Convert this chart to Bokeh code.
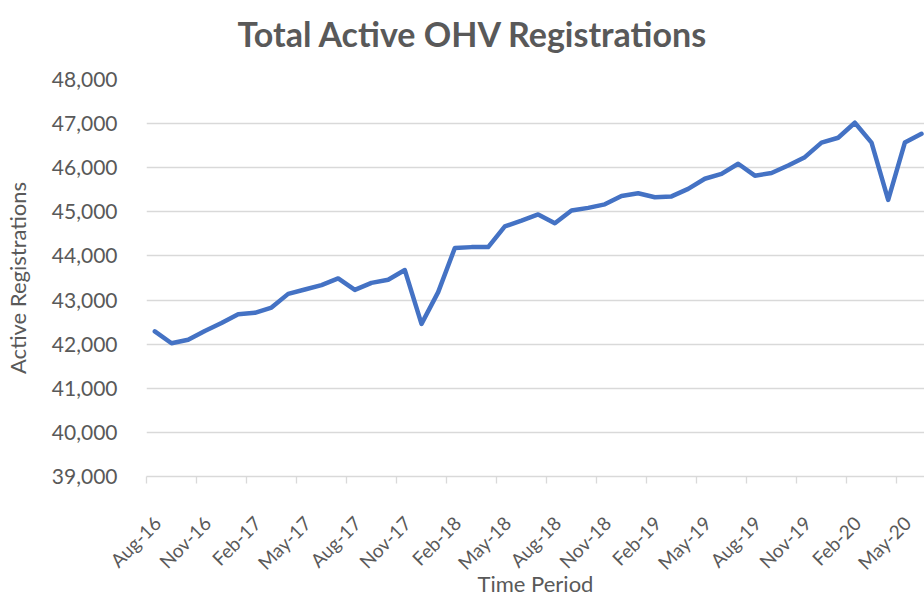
import math
from bokeh.plotting import figure
from bokeh.models import FixedTicker, NumeralTickFormatter, Range1d, LinearAxis, Title
from bokeh.embed import file_html
from bokeh.resources import INLINE

# ---- data ----
title_text = "Total Active OHV Registrations"
x_title = "Time Period"
y_title = "Active Registrations"

# monthly values, Aug-16 .. Jun-20
registrations = [42290, 42020, 42100, 42300, 42480, 42680, 42710, 42830, 43140, 43240,
                 43340, 43490, 43230, 43390, 43460, 43680, 42460, 43180, 44180, 44200,
                 44200, 44670, 44800, 44940, 44740, 45030, 45090, 45170, 45360, 45420,
                 45330, 45350, 45520, 45750, 45860, 46090, 45820, 45880, 46050, 46240,
                 46570, 46680, 47020, 46570, 45270, 46570, 46770]
month_index = list(range(len(registrations)))

tick_labels = ["Aug-16", "Nov-16", "Feb-17", "May-17", "Aug-17", "Nov-17", "Feb-18", "May-18",
               "Aug-18", "Nov-18", "Feb-19", "May-19", "Aug-19", "Nov-19", "Feb-20", "May-20"]
label_step = 3
y_ticks = [39000, 40000, 41000, 42000, 43000, 44000, 45000, 46000, 47000, 48000]

# ---- style ----
FONT = "Lato"
TXT = "#595959"
GRID = "#d9d9d9"
LINE = "#4472C4"

W, H = 924, 600
B_LEFT, B_TOP, B_BOTTOM = 146, 79, 124
px_per_month = 16.667
frame_w = W - B_LEFT
x_start = -0.5
x_end = x_start + frame_w / px_per_month
label_shift = 0.15   # nudge rotated labels so their ends sit like the original

p = figure(width=W, height=H, output_backend="svg", toolbar_location=None,
           x_range=Range1d(x_start, x_end), y_range=Range1d(y_ticks[0], y_ticks[-1]),
           min_border_left=B_LEFT, min_border_right=0, min_border_top=B_TOP,
           min_border_bottom=B_BOTTOM,
           background_fill_color="white", border_fill_color="white")
p.outline_line_color = None
p.title.visible = False

p.line(month_index, registrations, line_color=LINE, line_width=4.5,
       line_join="round", line_cap="round")

xax = p.below[0]
yax = p.left[0]

# invisible spacer between frame and title (one hidden tick, blank label)
spacer = LinearAxis(ticker=FixedTicker(ticks=[x_start], minor_ticks=[]),
                    major_label_overrides={x_start: ""},
                    axis_line_color=None, major_tick_line_color=None,
                    minor_tick_line_color=None, major_tick_out=26, major_tick_in=0,
                    major_label_standoff=0, major_label_text_font_size="1px")
p.add_layout(spacer, "above")

# title (outermost panel above)
p.add_layout(Title(text=title_text, align="left", offset=91, standoff=0,
                   text_font=FONT, text_font_size="34px", text_font_style="bold",
                   text_color=TXT), "above")

# y axis
yax.ticker = FixedTicker(ticks=y_ticks)
yax.formatter = NumeralTickFormatter(format="0,0")
yax.axis_line_color = None
yax.major_tick_line_color = None
yax.minor_tick_line_color = None
yax.major_tick_out = 0
yax.major_tick_in = 0
yax.major_label_standoff = 29
yax.major_label_text_font = FONT
yax.major_label_text_font_size = "21px"
yax.major_label_text_color = TXT
yax.axis_label = y_title
yax.axis_label_text_font = FONT
yax.axis_label_text_font_size = "22px"
yax.axis_label_text_font_style = "normal"
yax.axis_label_text_color = TXT
yax.axis_label_standoff = 18

p.ygrid.ticker = FixedTicker(ticks=y_ticks)
p.ygrid.grid_line_color = GRID
p.ygrid.grid_line_width = 1.3
p.xgrid.visible = False

# x axis: labels near month centres, tick marks on month boundaries
n_lab = len(tick_labels)
label_ticks = [label_step * k + label_shift for k in range(n_lab)]
boundary_ticks = [x_start + label_step * k for k in range(n_lab)]
xax.ticker = FixedTicker(ticks=label_ticks, minor_ticks=boundary_ticks)
xax.major_label_overrides = {t: lab for t, lab in zip(label_ticks, tick_labels)}
xax.axis_line_color = GRID
xax.axis_line_width = 1.3
xax.major_tick_line_color = None
xax.major_tick_out = 0
xax.major_tick_in = 0
xax.minor_tick_line_color = GRID
xax.minor_tick_line_width = 1.3
xax.minor_tick_out = 7
xax.minor_tick_in = 0
xax.major_label_standoff = 36
xax.major_label_orientation = math.pi / 4
xax.major_label_text_font = FONT
xax.major_label_text_font_size = "19px"
xax.major_label_text_color = TXT
xax.axis_label = x_title
xax.axis_label_text_font = FONT
xax.axis_label_text_font_size = "22px"
xax.axis_label_text_font_style = "normal"
xax.axis_label_text_color = TXT
xax.axis_label_standoff = -15

open("out.html", "w").write(file_html(p, INLINE))
